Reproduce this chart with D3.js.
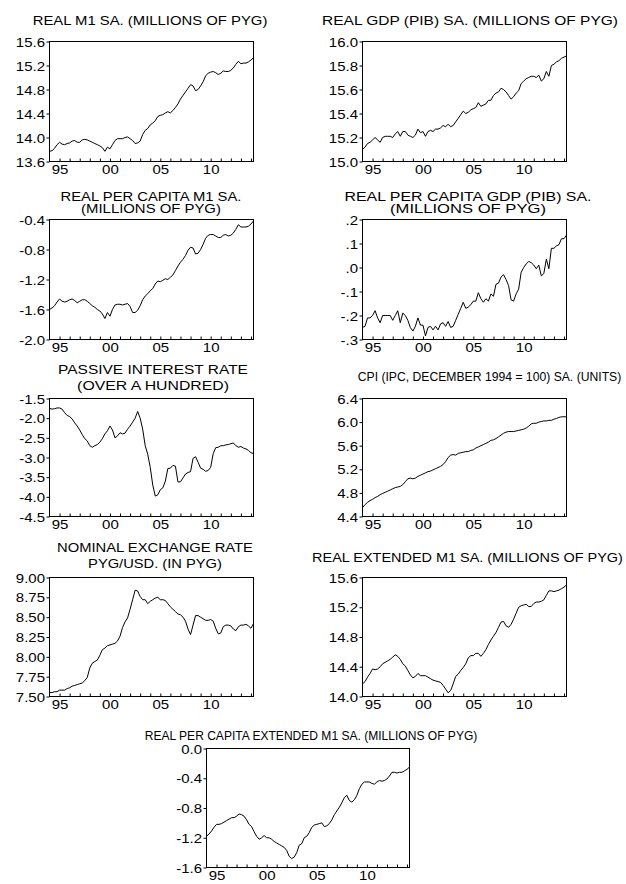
<!DOCTYPE html>
<html><head><meta charset="utf-8">
<script src="https://cdn.jsdelivr.net/npm/d3@7"></script>
<style>
body{margin:0;background:#fff}
svg text{font-family:"Liberation Sans",Arial,sans-serif;fill:#000}
</style></head>
<body><svg id="chart" width="626" height="884"></svg>
<script>
// ---------------- DATA (quarterly, 1994Q1 - 2014Q2) ----------------
const startYear = 1994;
const nObs = 82;
const quarters = d3.range(nObs).map(i => `${startYear + Math.floor(i / 4)}Q${(i % 4) + 1}`);

const realM1 = [13.77,13.78,13.82,13.88, 13.92,13.89,13.88,13.90, 13.91,13.94,13.95,13.92, 13.92,13.96,13.97,13.96,
 13.94,13.92,13.90,13.88, 13.86,13.83,13.77,13.84, 13.81,13.88,13.95,13.98, 13.98,13.98,14.00,14.01,
 13.98,13.95,13.90,13.91, 13.94,14.05,14.12,14.15, 14.21,14.24,14.28,14.35, 14.37,14.38,14.41,14.43,
 14.41,14.45,14.50,14.56, 14.64,14.70,14.76,14.82, 14.88,14.86,14.78,14.80, 14.86,14.93,15.03,15.07,
 15.09,15.10,15.08,15.05, 15.07,15.11,15.10,15.10, 15.12,15.16,15.22,15.27, 15.23,15.24,15.24,15.26,
 15.29,15.33];

const realGDP = [15.10,15.12,15.15,15.16, 15.18,15.20,15.18,15.16, 15.20,15.21,15.21,15.21, 15.20,15.23,15.25,15.21,
 15.25,15.25,15.22,15.21, 15.20,15.22,15.27,15.24, 15.25,15.21,15.25,15.26, 15.25,15.27,15.27,15.28,
 15.30,15.29,15.31,15.29, 15.30,15.33,15.36,15.39, 15.42,15.40,15.41,15.43, 15.44,15.45,15.49,15.46,
 15.47,15.48,15.51,15.51, 15.55,15.57,15.58,15.61, 15.60,15.58,15.55,15.52, 15.54,15.57,15.59,15.65,
 15.67,15.69,15.70,15.71, 15.71,15.70,15.72,15.67, 15.69,15.75,15.71,15.80, 15.81,15.83,15.84,15.86,
 15.87,15.88];

const realPcM1 = [-1.60,-1.58,-1.55,-1.50, -1.46,-1.49,-1.50,-1.49, -1.47,-1.46,-1.48,-1.51, -1.49,-1.47,-1.47,-1.49,
 -1.52,-1.55,-1.57,-1.60, -1.62,-1.66,-1.72,-1.64, -1.69,-1.60,-1.54,-1.53, -1.53,-1.54,-1.53,-1.52,
 -1.56,-1.64,-1.64,-1.61, -1.55,-1.47,-1.42,-1.39, -1.35,-1.32,-1.26,-1.22, -1.23,-1.21,-1.19,-1.20,
 -1.17,-1.14,-1.08,-1.02, -0.97,-0.93,-0.88,-0.81, -0.77,-0.78,-0.86,-0.85, -0.80,-0.73,-0.65,-0.61,
 -0.60,-0.60,-0.62,-0.64, -0.64,-0.61,-0.60,-0.62, -0.61,-0.58,-0.53,-0.47, -0.50,-0.50,-0.50,-0.49,
 -0.46,-0.42];

const realPcGDP = [-0.250,-0.245,-0.210,-0.210, -0.200,-0.180,-0.210,-0.230, -0.200,-0.200,-0.200,-0.200, -0.220,-0.200,-0.180,-0.230,
 -0.190,-0.200,-0.220,-0.250, -0.265,-0.245,-0.210,-0.240, -0.240,-0.285,-0.250,-0.245, -0.260,-0.245,-0.260,-0.235,
 -0.230,-0.245,-0.225,-0.250, -0.245,-0.220,-0.195,-0.170, -0.145,-0.170,-0.165,-0.155, -0.140,-0.140,-0.105,-0.130,
 -0.145,-0.130,-0.140,-0.110, -0.120,-0.070,-0.065,-0.040, -0.030,-0.050,-0.075,-0.135, -0.140,-0.110,-0.090,-0.020,
 0.000,0.015,0.025,0.020, 0.010,-0.005,0.010,-0.035, -0.025,0.035,-0.005,0.080, 0.080,0.090,0.095,0.120,
 0.120,0.135];

const passiveRate = [-1.75,-1.77,-1.76,-1.74, -1.74,-1.77,-1.86,-1.93, -1.96,-2.02,-2.12,-2.20, -2.30,-2.42,-2.52,-2.58,
 -2.70,-2.74,-2.70,-2.67, -2.61,-2.52,-2.40,-2.32, -2.20,-2.30,-2.50,-2.45, -2.37,-2.40,-2.38,-2.28,
 -2.20,-2.10,-2.00,-1.83, -2.00,-2.28,-2.70,-2.92, -3.25,-3.70,-3.98,-3.95, -3.82,-3.77,-3.60,-3.28,
 -3.27,-3.20,-3.22,-3.62, -3.62,-3.52,-3.42,-3.38, -3.36,-3.02,-2.98,-3.12, -3.27,-3.30,-3.35,-3.33,
 -3.25,-2.90,-2.75,-2.74, -2.70,-2.70,-2.68,-2.67, -2.65,-2.63,-2.70,-2.74, -2.72,-2.76,-2.78,-2.82,
 -2.88,-2.90];

const cpi = [4.55,4.60,4.64,4.67, 4.69,4.72,4.74,4.77, 4.79,4.81,4.83,4.85, 4.87,4.89,4.90,4.91,
 4.94,4.99,5.04,5.05, 5.04,5.05,5.08,5.10, 5.12,5.14,5.16,5.17, 5.19,5.21,5.23,5.25,
 5.28,5.33,5.40,5.44, 5.45,5.44,5.47,5.48, 5.49,5.50,5.50,5.52, 5.53,5.56,5.58,5.60,
 5.62,5.64,5.66,5.69, 5.70,5.72,5.75,5.78, 5.81,5.83,5.84,5.84, 5.84,5.85,5.86,5.87,
 5.88,5.90,5.93,5.97, 5.98,5.98,6.00,6.01, 6.02,6.02,6.03,6.03, 6.05,6.06,6.08,6.09,
 6.09,6.09];

const exchangeRate = [7.55,7.55,7.56,7.56, 7.58,7.58,7.58,7.60, 7.61,7.63,7.64,7.65, 7.66,7.67,7.70,7.74,
 7.86,7.92,7.94,7.96, 8.02,8.09,8.11,8.14, 8.15,8.16,8.17,8.20, 8.26,8.37,8.44,8.49,
 8.60,8.72,8.84,8.83, 8.76,8.72,8.72,8.67, 8.70,8.72,8.74,8.75, 8.72,8.72,8.71,8.67,
 8.63,8.60,8.57,8.54, 8.53,8.50,8.45,8.35, 8.28,8.40,8.52,8.52, 8.50,8.48,8.46,8.46,
 8.47,8.45,8.36,8.29, 8.30,8.38,8.40,8.40, 8.39,8.35,8.33,8.38, 8.40,8.40,8.41,8.39,
 8.36,8.42];

const realExtM1 = [14.17,14.20,14.26,14.31, 14.37,14.36,14.37,14.40, 14.44,14.46,14.48,14.50, 14.53,14.56,14.54,14.50,
 14.44,14.41,14.35,14.29, 14.25,14.27,14.31,14.28, 14.28,14.28,14.26,14.24, 14.22,14.21,14.20,14.19,
 14.15,14.10,14.05,14.08, 14.17,14.27,14.30,14.35, 14.39,14.44,14.52,14.55, 14.55,14.58,14.58,14.54,
 14.58,14.63,14.70,14.76, 14.81,14.86,14.93,15.00, 15.01,14.95,14.93,14.97, 15.04,15.12,15.20,15.22,
 15.23,15.24,15.21,15.21, 15.25,15.27,15.27,15.28, 15.30,15.36,15.42,15.42, 15.41,15.42,15.43,15.45,
 15.47,15.50];

const realPcExtM1 = [-1.18,-1.15,-1.11,-1.06, -1.02,-1.02,-1.01,-0.99, -0.97,-0.95,-0.93,-0.93, -0.91,-0.88,-0.89,-0.91,
 -0.96,-1.02,-1.05,-1.12, -1.18,-1.22,-1.20,-1.17, -1.20,-1.20,-1.22,-1.25, -1.27,-1.29,-1.31,-1.33,
 -1.37,-1.45,-1.48,-1.46, -1.40,-1.30,-1.28,-1.20, -1.18,-1.13,-1.06,-1.03, -1.02,-1.01,-1.00,-1.05,
 -1.04,-1.01,-0.96,-0.89, -0.84,-0.79,-0.73,-0.66, -0.63,-0.70,-0.72,-0.69, -0.63,-0.54,-0.48,-0.45,
 -0.45,-0.45,-0.47,-0.48, -0.45,-0.43,-0.44,-0.43, -0.41,-0.37,-0.32,-0.32, -0.33,-0.32,-0.32,-0.30,
 -0.28,-0.25];

const titles = [
  ["REAL M1 SA. (MILLIONS OF PYG)"],
  ["REAL GDP (PIB) SA. (MILLIONS OF PYG)"],
  ["REAL PER CAPITA M1 SA.", "(MILLIONS OF PYG)"],
  ["REAL PER CAPITA GDP (PIB) SA.", "(MILLIONS OF PYG)"],
  ["PASSIVE INTEREST RATE", "(OVER A HUNDRED)"],
  ["CPI (IPC, DECEMBER 1994 = 100) SA. (UNITS)"],
  ["NOMINAL EXCHANGE RATE", "PYG/USD. (IN PYG)"],
  ["REAL EXTENDED M1 SA. (MILLIONS OF PYG)"],
  ["REAL PER CAPITA EXTENDED M1 SA. (MILLIONS OF PYG)"]
];
const seriesList = [realM1, realGDP, realPcM1, realPcGDP, passiveRate, cpi, exchangeRate, realExtM1, realPcExtM1];
const yTickValues = [
  [13.6,14.0,14.4,14.8,15.2,15.6],
  [15.0,15.2,15.4,15.6,15.8,16.0],
  [-2.0,-1.6,-1.2,-0.8,-0.4],
  [-0.3,-0.2,-0.1,0.0,0.1,0.2],
  [-4.5,-4.0,-3.5,-3.0,-2.5,-2.0,-1.5],
  [4.4,4.8,5.2,5.6,6.0,6.4],
  [7.50,7.75,8.00,8.25,8.50,8.75,9.00],
  [14.0,14.4,14.8,15.2,15.6],
  [-1.6,-1.2,-0.8,-0.4,0.0]
];
const yTickLabels = [
  ["13.6","14.0","14.4","14.8","15.2","15.6"],
  ["15.0","15.2","15.4","15.6","15.8","16.0"],
  ["-2.0","-1.6","-1.2","-0.8","-0.4"],
  ["-.3","-.2","-.1",".0",".1",".2"],
  ["-4.5","-4.0","-3.5","-3.0","-2.5","-2.0","-1.5"],
  ["4.4","4.8","5.2","5.6","6.0","6.4"],
  ["7.50","7.75","8.00","8.25","8.50","8.75","9.00"],
  ["14.0","14.4","14.8","15.2","15.6"],
  ["-1.6","-1.2","-0.8","-0.4","0.0"]
];
const xTickYears = d3.range(1995, 2015);
const xLabelYears = [1995, 2000, 2005, 2010];
const xLabelText = ["95", "00", "05", "10"];

// ---------------- LAYOUT ----------------
// tw = rendered width of each title line (text is horizontally scaled to fit)
const layout = [
  {x0:49.5, x1:253.5, y0:41.5, y1:161.5, tx:150, ty:[25], tw:[235]},
  {x0:362.5, x1:566.5, y0:41.5, y1:161.5, tx:470, ty:[25], tw:[296]},
  {x0:49.5, x1:253.5, y0:219.5, y1:339.5, tx:151, ty:[200.5,213], tw:[181,140]},
  {x0:362.5, x1:566.5, y0:219.5, y1:339.5, tx:468, ty:[200.5,213], tw:[247,156]},
  {x0:49.5, x1:253.5, y0:398.5, y1:516.5, tx:153, ty:[374,390], tw:[190,152]},
  {x0:362.5, x1:566.5, y0:398.5, y1:516.5, tx:489.5, ty:[381], tw:[264]},
  {x0:49.5, x1:253.5, y0:577.5, y1:696.5, tx:155, ty:[552,568], tw:[196,134]},
  {x0:362.5, x1:566.5, y0:577.5, y1:696.5, tx:467.5, ty:[562], tw:[311]},
  {x0:206.5, x1:409.5, y0:748.5, y1:867.5, tx:311, ty:[740], tw:[333]}
];
const FS = 12.5, SX = 1.2;

const svg = d3.select("#chart");

seriesList.forEach((vals, k) => {
  const L = layout[k];
  const g = svg.append("g");
  const x = d3.scaleLinear().domain([0, nObs - 1]).range([L.x0, L.x1]);
  const yv = yTickValues[k];
  const y = d3.scaleLinear().domain([yv[0], yv[yv.length - 1]]).range([L.y1, L.y0]);

  // title
  titles[k].forEach((t, j) => {
    const tt = g.append("text")
      .attr("text-anchor", "middle")
      .style("font-size", (titles[k].length > 1 ? 12 : FS) + "px")
      .text(t);
    const w = tt.node().getComputedTextLength() || L.tw[j];
    tt.attr("transform", `translate(${L.tx},${L.ty[j]}) scale(${L.tw[j] / w},1)`);
  });

  // y axis
  const ya = g.append("g").attr("transform", `translate(${L.x0},0)`)
    .call(d3.axisLeft(y).tickValues(yv).tickSizeInner(3).tickSizeOuter(0)
      .tickFormat((d, i) => yTickLabels[k][i]));
  ya.select(".domain").remove();
  ya.selectAll("line").attr("stroke", "#000");
  ya.selectAll("text")
    .attr("x", -4.5 / SX)
    .attr("dy", "0.36em")
    .attr("transform", `scale(${SX},1)`)
    .style("font-size", FS + "px")
    .style("font-family", '"Liberation Sans",Arial,sans-serif');

  // x axis
  const xa = g.append("g").attr("transform", `translate(0,${L.y1})`)
    .call(d3.axisBottom(x)
      .tickValues(xTickYears.map(yr => (yr - startYear) * 4))
      .tickSizeInner(-3).tickSizeOuter(0).tickPadding(4)
      .tickFormat(d => {
        const yr = startYear + d / 4;
        const idx = xLabelYears.indexOf(yr);
        return idx >= 0 ? xLabelText[idx] : "";
      }));
  xa.select(".domain").remove();
  xa.selectAll("line").attr("stroke", "#000");
  xa.selectAll("text")
    .attr("transform", `scale(${SX},1)`)
    .style("font-size", FS + "px")
    .style("font-family", '"Liberation Sans",Arial,sans-serif');

  // frame
  g.append("rect")
    .attr("x", L.x0).attr("y", L.y0)
    .attr("width", L.x1 - L.x0).attr("height", L.y1 - L.y0)
    .attr("fill", "none").attr("stroke", "#000").attr("stroke-width", 1);

  // series line
  g.append("path")
    .datum(vals)
    .attr("fill", "none")
    .attr("stroke", "#000")
    .attr("stroke-width", 1)
    .attr("d", d3.line().x((d, i) => x(i)).y(d => y(d)));
});
</script>
</body></html>
